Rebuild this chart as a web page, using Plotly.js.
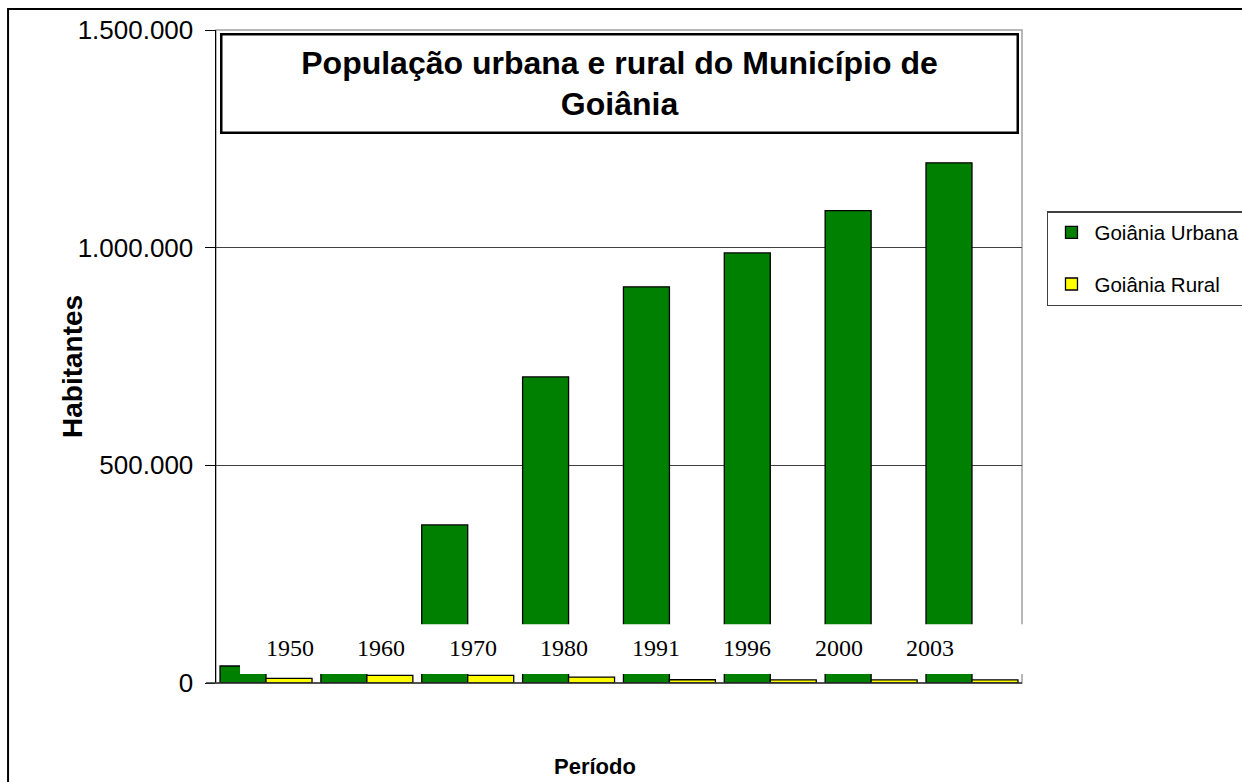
<!DOCTYPE html>
<html>
<head>
<meta charset="utf-8">
<script src="https://cdn.plot.ly/plotly-3.0.1.min.js"></script>
<style>
  html, body { margin: 0; padding: 0; background: #ffffff; overflow: hidden; }
  #chart { width: 1242px; height: 782px; }
</style>
</head>
<body>
<div id="chart"></div>
<script>
// ---- data ----
const periods = ['1950', '1960', '1970', '1980', '1991', '1996', '2000', '2003'];
const urbana  = [39000, 130000, 363000, 703000, 910000, 988000, 1085000, 1195000];
const rural   = [10500, 17500, 17500, 13500, 7500, 7000, 7000, 7000];
const seriesNames = ['Goiânia Urbana', 'Goiânia Rural'];
const chartTitle = 'População urbana e rural do Município de<br>Goiânia';
const yTitle = 'Habitantes';
const xTitle = 'Período';

const sansFont = 'Liberation Sans, Arial, sans-serif';
const serifFont = 'Liberation Serif, Times New Roman, serif';

const traces = [
  {
    type: 'bar', name: seriesNames[0], x: periods, y: urbana,
    marker: { color: '#008000', line: { color: '#000000', width: 1.3 } },
    legendgroup: 'a', hoverinfo: 'x+y'
  },
  {
    type: 'bar', name: seriesNames[1], x: periods, y: rural,
    marker: { color: '#FFFF00', line: { color: '#000000', width: 1.3 } },
    legendgroup: 'b', hoverinfo: 'x+y'
  }
];

// category labels drawn as annotations on an evenly spaced helper axis
const labelAnnotations = periods.map((p, i) => ({
  xref: 'x2', yref: 'paper', x: i, y: 0.0536,
  text: p, showarrow: false, xanchor: 'center', yanchor: 'middle',
  font: { family: serifFont, size: 24, color: '#000000' }
}));

const layout = {
  width: 1242, height: 782,
  margin: { l: 216, r: 220, t: 30, b: 99, pad: 0, autoexpand: false },
  paper_bgcolor: '#ffffff', plot_bgcolor: '#ffffff',
  separators: ',.',
  barmode: 'group', bargap: 0.088, bargroupgap: 0,
  showlegend: true,
  legend: {
    x: 1.031, y: 0.7228, xanchor: 'left', yanchor: 'top',
    bgcolor: '#ffffff', bordercolor: '#404040', borderwidth: 1.5,
    font: { family: sansFont, size: 20.5, color: '#000000' },
    traceorder: 'grouped', tracegroupgap: 22, itemwidth: 36
  },
  xaxis: {
    type: 'category', range: [-0.496, 7.496],
    showticklabels: false, ticks: '', showgrid: false, zeroline: false,
    showline: false, fixedrange: true
  },
  xaxis2: {
    overlaying: 'x', range: [-0.809, 8.006], visible: false, fixedrange: true
  },
  yaxis: {
    range: [0, 1500000], dtick: 500000, tick0: 0, tickformat: ',d',
    ticks: 'outside', ticklen: 10, tickwidth: 1, tickcolor: '#000000',
    ticklabelstandoff: 6,
    showgrid: true, gridcolor: '#404040', gridwidth: 1,
    zeroline: false, showline: true, linecolor: '#000000', linewidth: 1.5,
    tickfont: { family: sansFont, size: 26, color: '#000000' },
    fixedrange: true
  },
  shapes: [
    // plot-area frame (grey)
    { type: 'rect', xref: 'paper', yref: 'paper', x0: 0, x1: 1, y0: 0, y1: 1,
      line: { color: '#a0a0a0', width: 1.5 }, layer: 'below' },
    // baseline
    { type: 'line', xref: 'paper', yref: 'paper', x0: -0.0124, x1: 1, y0: 0, y1: 0,
      line: { color: '#303030', width: 1.5 }, layer: 'above' },
    // white band behind the category labels
    { type: 'rect', xref: 'paper', yref: 'paper', x0: 0.0298, x1: 1.003, y0: 0.0138, y1: 0.0899,
      fillcolor: '#ffffff', line: { width: 0 }, layer: 'above' },
    // outer chart border
    { type: 'rect', xref: 'paper', yref: 'paper', x0: -0.258, x1: 1.4, y0: -0.3, y1: 1.032,
      line: { color: '#000000', width: 2 }, layer: 'below' }
  ],
  annotations: [
    {
      xref: 'paper', yref: 'paper', x: 0.5012, y: 0.9188,
      xanchor: 'center', yanchor: 'middle', showarrow: false,
      text: '<b>' + chartTitle + '</b>',
      width: 792, height: 94, align: 'center', valign: 'middle',
      bgcolor: '#ffffff', bordercolor: '#000000', borderwidth: 2.5, borderpad: 1,
      font: { family: sansFont, size: 32, color: '#000000' }
    },
    {
      xref: 'paper', yref: 'paper', x: 0.470, y: -0.1286,
      xanchor: 'center', yanchor: 'middle', showarrow: false,
      text: '<b>' + xTitle + '</b>',
      font: { family: sansFont, size: 22, color: '#000000' }
    },
    {
      xref: 'paper', yref: 'paper', x: -0.1787, y: 0.4854,
      xanchor: 'center', yanchor: 'middle', showarrow: false, textangle: -90,
      text: '<b>' + yTitle + '</b>',
      font: { family: sansFont, size: 28, color: '#000000' }
    }
  ].concat(labelAnnotations)
};

Plotly.newPlot('chart', traces, layout, { displayModeBar: false, staticPlot: true });
</script>
</body>
</html>
